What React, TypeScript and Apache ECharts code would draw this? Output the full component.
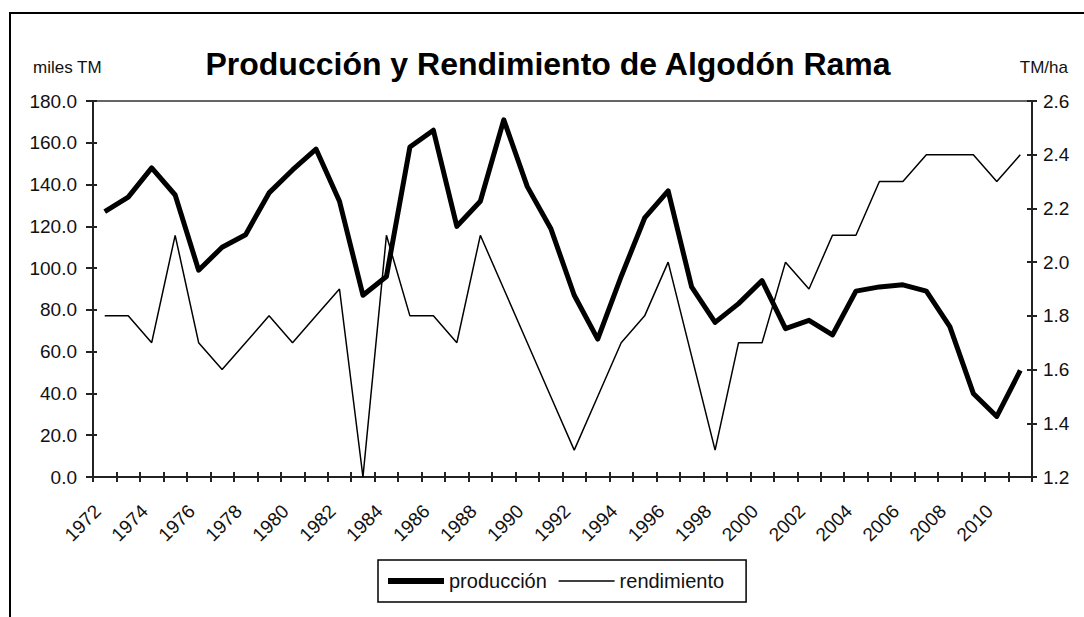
import React, { useEffect, useRef } from "react";
import * as echarts from "echarts";

const years: string[] = [];
for (let y = 1972; y <= 2011; y++) years.push(String(y));

const produccion = [
  127, 134, 148, 135, 99, 110, 116, 136, 147, 157,
  132, 87, 96, 158, 166, 120, 132, 171, 139, 119,
  87, 66, 96, 124, 137, 91, 74, 83, 94, 71,
  75, 68, 89, 91, 92, 89, 72, 40, 29, 51,
];

const rendimiento = [
  1.8, 1.8, 1.7, 2.1, 1.7, 1.6, 1.7, 1.8, 1.7, 1.8,
  1.9, 1.2, 2.1, 1.8, 1.8, 1.7, 2.1, 1.9, 1.7, 1.5,
  1.3, 1.5, 1.7, 1.8, 2.0, 1.65, 1.3, 1.7, 1.7, 2.0,
  1.9, 2.1, 2.1, 2.3, 2.3, 2.4, 2.4, 2.4, 2.3, 2.4,
];

const titleText = "Producción y Rendimiento de Algodón Rama";
const leftUnit = "miles TM";
const rightUnit = "TM/ha";

const FONT = "'Liberation Sans', Arial, sans-serif";

export default function App() {
  const ref = useRef<HTMLDivElement>(null);

  useEffect(() => {
    if (!ref.current) return;
    const chart = echarts.init(ref.current, undefined, { renderer: "svg" });
    const axisLineStyle = { color: "#222", width: 2 };
    const tickStyle = { color: "#222", width: 2 };
    const labelStyle = { color: "#111", fontSize: 19, fontFamily: FONT };

    chart.setOption({
      animation: false,
      backgroundColor: "#fff",
      textStyle: { fontFamily: FONT },
      grid: {
        left: 93,
        right: 52,
        top: 101,
        bottom: 140,
        show: true,
        borderColor: "#333",
        borderWidth: 1.5,
        backgroundColor: "transparent",
      },
      graphic: [
        {
          type: "rect",
          shape: { x: 10, y: 13, width: 1200, height: 900 },
          style: { fill: "none", stroke: "#000", lineWidth: 2 },
          silent: true,
        },
        {
          type: "text",
          x: 548,
          y: 64,
          style: {
            text: titleText,
            fill: "#000",
            font: `bold 32px ${FONT}`,
            textAlign: "center",
            textVerticalAlign: "middle",
          },
        },
        {
          type: "text",
          x: 33,
          y: 67,
          style: {
            text: leftUnit,
            fill: "#111",
            font: `17px ${FONT}`,
            textAlign: "left",
            textVerticalAlign: "middle",
          },
        },
        {
          type: "text",
          x: 1068,
          y: 67,
          style: {
            text: rightUnit,
            fill: "#111",
            font: `17px ${FONT}`,
            textAlign: "right",
            textVerticalAlign: "middle",
          },
        },
      ],
      legend: {
        left: 378,
        top: 560,
        padding: [11, 22, 11, 7],
        borderColor: "#000",
        borderWidth: 1.5,
        itemWidth: 56,
        itemHeight: 12,
        itemGap: 11,
        itemStyle: { opacity: 0 },
        textStyle: { fontSize: 20, color: "#111", fontFamily: FONT },
        data: [
          { name: "producción", lineStyle: { width: 6, color: "#000" }, itemStyle: { opacity: 0 } },
          { name: "rendimiento", lineStyle: { width: 1.5, color: "#000" }, itemStyle: { opacity: 0 } },
        ],
      },
      xAxis: [
        {
          type: "category",
          data: years,
          position: "bottom",
          boundaryGap: true,
          axisLine: { show: true, lineStyle: axisLineStyle },
          axisTick: { show: true, interval: 0, length: 5, inside: false, lineStyle: tickStyle },
          axisLabel: { ...labelStyle, rotate: 45, interval: 1, margin: 24, padding: [0, 10, 0, 0] },
          splitLine: { show: false },
        },
        {
          type: "category",
          data: years,
          position: "bottom",
          boundaryGap: true,
          axisLine: { show: false },
          axisTick: { show: true, interval: 0, length: 5, inside: true, lineStyle: tickStyle },
          axisLabel: { show: false },
          splitLine: { show: false },
        },
      ],
      yAxis: [
        {
          type: "value",
          position: "left",
          min: 0,
          max: 180,
          interval: 20,
          axisLine: { show: true, lineStyle: axisLineStyle },
          axisTick: { show: true, length: 7, inside: false, lineStyle: tickStyle },
          axisLabel: { ...labelStyle, margin: 16, formatter: (v: number) => v.toFixed(1) },
          splitLine: { show: false },
        },
        {
          type: "value",
          position: "right",
          min: 1.2,
          max: 2.6,
          interval: 0.2,
          axisLine: { show: true, lineStyle: axisLineStyle },
          axisTick: { show: true, length: 5, inside: false, lineStyle: tickStyle },
          axisLabel: { ...labelStyle, margin: 11, formatter: (v: number) => v.toFixed(1) },
          splitLine: { show: false },
        },
        {
          type: "value",
          position: "left",
          min: 0,
          max: 180,
          interval: 20,
          axisLine: { show: false },
          axisTick: { show: true, length: 4, inside: true, lineStyle: tickStyle },
          axisLabel: { show: false },
          splitLine: { show: false },
        },
        {
          type: "value",
          position: "right",
          min: 1.2,
          max: 2.6,
          interval: 0.2,
          axisLine: { show: false },
          axisTick: { show: true, length: 5, inside: true, lineStyle: tickStyle },
          axisLabel: { show: false },
          splitLine: { show: false },
        },
      ],
      series: [
        {
          name: "producción",
          type: "line",
          xAxisIndex: 0,
          yAxisIndex: 0,
          data: produccion,
          symbol: "none",
          lineStyle: { color: "#000", width: 5, join: "round" },
          itemStyle: { color: "#000" },
        },
        {
          name: "rendimiento",
          type: "line",
          xAxisIndex: 0,
          yAxisIndex: 1,
          data: rendimiento,
          symbol: "none",
          lineStyle: { color: "#000", width: 1.5 },
          itemStyle: { color: "#000" },
        },
      ],
    });
    return () => chart.dispose();
  }, []);

  return (
    <div
      ref={ref}
      style={{ position: "absolute", left: 0, top: 0, width: 1084, height: 617, background: "#fff" }}
    />
  );
}
